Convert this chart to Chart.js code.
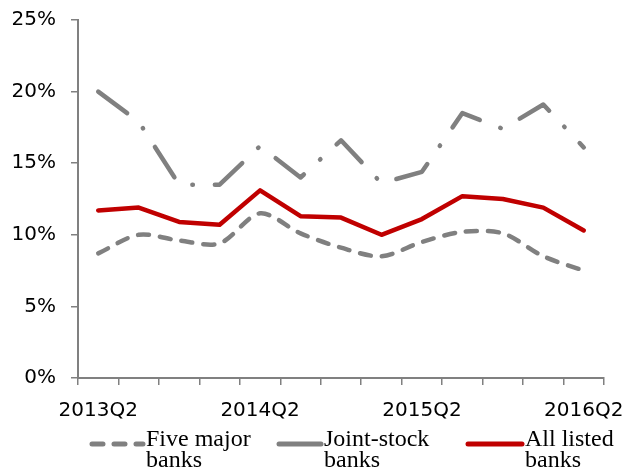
<!DOCTYPE html>
<html>
<head>
<meta charset="utf-8">
<script src="https://cdn.jsdelivr.net/npm/chart.js@4"></script>
<style>
  html, body { margin: 0; padding: 0; background: #fff; }
  #wrap { width: 628px; height: 470px; position: relative; }
</style>
</head>
<body>
<div id="wrap"><canvas id="chart"></canvas></div>
<script>
// quarters from 2013Q2 to 2016Q2
const quarters = ['2013Q2', '2013Q3', '2013Q4', '2014Q1', '2014Q2', '2014Q3', '2014Q4',
                  '2015Q1', '2015Q2', '2015Q3', '2015Q4', '2016Q1', '2016Q2'];
const shownLabels = ['2013Q2', '2014Q2', '2015Q2', '2016Q2'];

const fiveMajor   = [8.7, 10.0, 9.6, 9.4, 11.5, 10.1, 9.1, 8.5, 9.5, 10.2, 10.1, 8.5, 7.5];
const jointStock  = [20.0, 17.9, 13.5, 13.5, 16.2, 14.0, 16.6, 13.6, 14.4, 18.5, 17.4, 19.1, 16.1];
const allListed   = [11.7, 11.9, 10.9, 10.7, 13.1, 11.3, 11.2, 10.0, 11.1, 12.7, 12.5, 11.9, 10.3];

const yTicks = [0, 5, 10, 15, 20, 25];

const GRAY = '#808080';
const RED = '#c00000';

// legend drawn by hand so the labels can wrap onto two lines
const legendItems = [
    { lines: ['Five major', 'banks'], color: GRAY, dash: [11, 11], x1: 92, x2: 143 },
    { lines: ['Joint-stock', 'banks'], color: GRAY, dash: [], x1: 279, x2: 321 },
    { lines: ['All listed', 'banks'], color: RED, dash: [], x1: 468, x2: 522 }
];

const customLegend = {
    id: 'customLegend',
    afterDraw(chart) {
        const ctx = chart.ctx;
        const y = 444;
        ctx.save();
        legendItems.forEach(item => {
            ctx.beginPath();
            ctx.strokeStyle = item.color;
            ctx.lineWidth = 5;
            ctx.lineCap = 'round';
            ctx.setLineDash(item.dash);
            ctx.moveTo(item.x1, y);
            ctx.lineTo(item.x2, y);
            ctx.stroke();
            ctx.setLineDash([]);
            ctx.fillStyle = '#000';
            ctx.font = '24px "Liberation Serif", "Times New Roman", serif';
            ctx.textAlign = 'left';
            ctx.textBaseline = 'alphabetic';
            ctx.fillText(item.lines[0], item.x2 + 3, 446);
            ctx.fillText(item.lines[1], item.x2 + 3, 467);
        });
        ctx.restore();
    }
};

new Chart(document.getElementById('chart').getContext('2d'), {
    type: 'line',
    data: {
        labels: quarters,
        datasets: [
            {
                label: 'All listed banks',
                data: allListed,
                borderColor: RED,
                borderWidth: 4.5,
                borderCapStyle: 'round',
                borderJoinStyle: 'round',
                pointRadius: 0,
                tension: 0,
                order: 0
            },
            {
                label: 'Joint-stock banks',
                data: jointStock,
                borderColor: GRAY,
                borderWidth: 4.5,
                borderDash: [36, 22, 0.5, 22],
                borderCapStyle: 'round',
                borderJoinStyle: 'round',
                pointRadius: 0,
                tension: 0,
                order: 1
            },
            {
                label: 'Five major banks',
                data: fiveMajor,
                borderColor: GRAY,
                borderWidth: 4.5,
                borderDash: [11, 11],
                borderCapStyle: 'round',
                borderJoinStyle: 'round',
                pointRadius: 0,
                tension: 0.3,
                order: 2
            }
        ]
    },
    options: {
        responsive: true,
        maintainAspectRatio: false,
        animation: false,
        layout: { padding: { left: 0, right: 24, top: 20, bottom: 50 } },
        scales: {
            x: {
                offset: true,
                grid: {
                    offset: true,
                    drawOnChartArea: false,
                    drawTicks: true,
                    tickLength: 7,
                    color: GRAY,
                    lineWidth: 1.5
                },
                border: { color: GRAY, width: 2 },
                ticks: {
                    autoSkip: false,
                    maxRotation: 0,
                    padding: 14,
                    color: '#000',
                    font: { family: '"DejaVu Sans", Verdana, sans-serif', size: 20 },
                    callback: function (val) {
                        const lab = this.getLabelForValue(val);
                        return shownLabels.includes(lab) ? lab : '';
                    }
                },
                afterFit: s => {
                    s.height = 42;
                    s.paddingLeft = 0;
                    s.paddingRight = 0;
                }
            },
            y: {
                min: 0,
                max: 25,
                afterBuildTicks: s => { s.ticks = yTicks.map(v => ({ value: v })); },
                grid: {
                    drawOnChartArea: false,
                    drawTicks: true,
                    tickLength: 7,
                    color: GRAY,
                    lineWidth: 1.5
                },
                border: { color: GRAY, width: 2 },
                ticks: {
                    padding: 15,
                    color: '#000',
                    font: { family: '"DejaVu Sans", Verdana, sans-serif', size: 20 },
                    callback: v => v + '%'
                },
                afterFit: s => {
                    s.width = 78;
                    s.paddingTop = 0;
                    s.paddingBottom = 0;
                }
            }
        },
        plugins: {
            legend: { display: false },
            tooltip: { enabled: false }
        }
    },
    plugins: [customLegend]
});
</script>
</body>
</html>
